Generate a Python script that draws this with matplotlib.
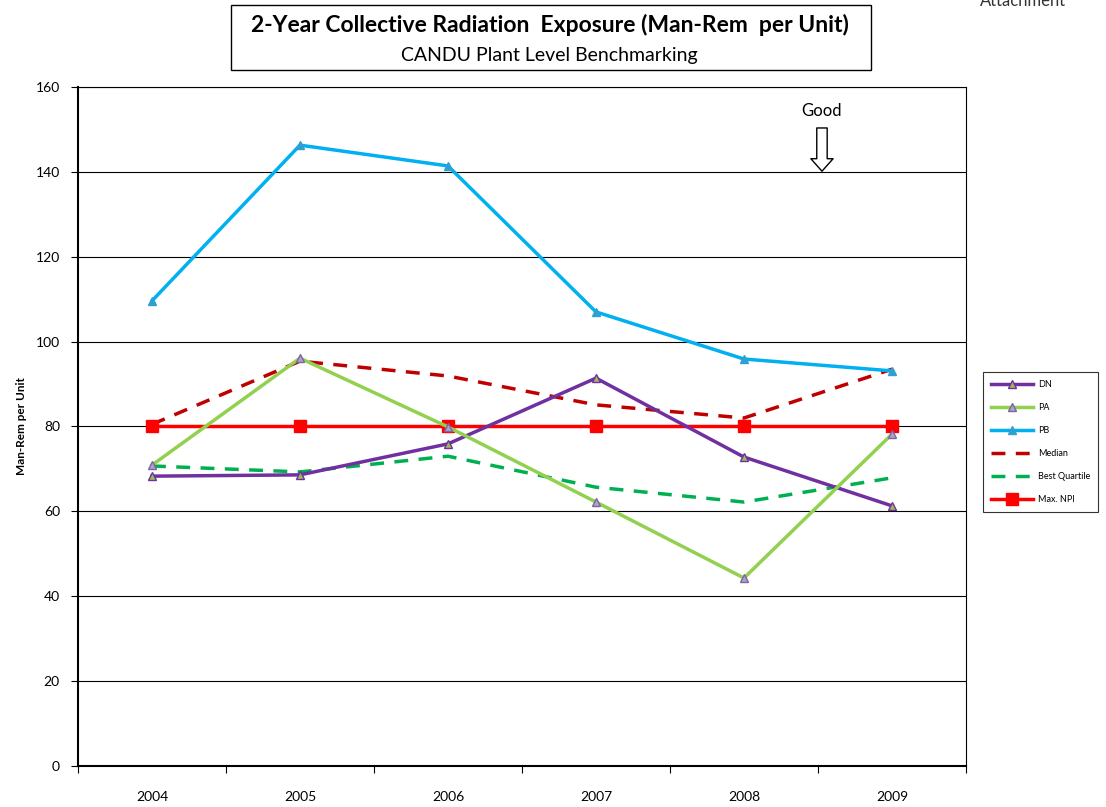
import matplotlib.pyplot as plt
import numpy as np

plt.rcParams['font.family'] = ['Lato', 'DejaVu Sans']

years = ["2004", "2005", "2006", "2007", "2008", "2009"]
dn = [68.3, 68.6, 75.9, 91.4, 72.8, 61.3]
pa = [70.9, 96.1, 79.9, 62.2, 44.3, 78.2]
pb = [109.6, 146.3, 141.4, 107.0, 95.9, 93.1]
median = [80.5, 95.4, 91.9, 85.1, 82.0, 93.5]
best_quartile = [70.7, 69.3, 73.0, 65.7, 62.2, 67.9]
max_npi = [80, 80, 80, 80, 80, 80]

x = np.arange(len(years))

fig = plt.figure(figsize=(11.06, 8.07), dpi=100)
ax = fig.add_axes([0.0705, 0.0508, 0.8029, 0.8414])

ax.plot(x, dn, color="#7030a0", lw=2.5, marker="^", ms=6,
        mfc="#9bbb59", mec="#7030a0", label="DN", zorder=4)
ax.plot(x, pa, color="#92d050", lw=2.5, marker="^", ms=6,
        mfc="#a6a6c8", mec="#8064a2", label="PA", zorder=4)
ax.plot(x, pb, color="#00b0f0", lw=2.5, marker="^", ms=6,
        mfc="#31a0d0", mec="#31a0d0", label="PB", zorder=4)
ax.plot(x, median, color="#c00000", lw=2.5, ls=(0, (4, 3)), label="Median", zorder=3)
ax.plot(x, best_quartile, color="#00b050", lw=2.5, ls=(0, (4, 3)), label="Best Quartile", zorder=3)
ax.plot(x, max_npi, color="#ff0000", lw=2.5, marker="s", ms=8, label="Max. NPI", zorder=3)

ax.set_xlim(-0.5, 5.5)
ax.set_ylim(0, 160)
ax.set_yticks(range(0, 161, 20))
ax.yaxis.grid(True, color="black", lw=0.8)
ax.set_axisbelow(True)
ax.tick_params(axis="y", direction="out", length=5, labelsize=10, pad=8)

ax.set_xticks(np.arange(-0.5, 6, 1))
ax.set_xticklabels([])
ax.set_xticks(x, minor=True)
ax.set_xticklabels(years, minor=True, fontsize=10)
ax.tick_params(axis="x", which="major", direction="out", length=5)
ax.tick_params(axis="x", which="minor", length=0, pad=18)

for s in ["top", "right"]:
    ax.spines[s].set_linewidth(0.8)
ax.spines["left"].set_linewidth(1.5)
ax.spines["bottom"].set_linewidth(1.5)

ax.set_ylabel("Man-Rem per Unit", fontsize=8.5, fontweight="bold", labelpad=6)

# "Good" arrow
ax.text(4.527, 154.4, "Good", ha="center", va="center", fontsize=12)
ax.annotate("", xy=(4.527, 139.5), xytext=(4.527, 151),
            arrowprops=dict(arrowstyle="simple,head_length=0.9,head_width=1.6,tail_width=0.75",
                            fc="white", ec="black", lw=1))

# title box
fig.text(0.497, 0.969, "2-Year Collective Radiation  Exposure (Man-Rem  per Unit)",
         ha="center", va="center", fontsize=16.5, fontweight="bold")
fig.text(0.497, 0.931, "CANDU Plant Level Benchmarking", ha="center", va="center", fontsize=14)
fig.patches.append(plt.Rectangle((231 / 1106, 1 - 70 / 807), 640 / 1106, 65 / 807,
                                 transform=fig.transFigure, fill=False, ec="black", lw=1))
fig.text(0.886, 0.999, "Attachment", ha="left", va="center", fontsize=12, color="#333333")

leg = ax.legend(loc="upper left", bbox_to_anchor=(983 / 1106, 1 - 372 / 807),
                bbox_transform=fig.transFigure, fontsize=6.5, frameon=True,
                fancybox=False, edgecolor="black", handlelength=4.6,
                handletextpad=0.6, labelspacing=1.55, borderpad=0.9,
                borderaxespad=0)
leg.get_frame().set_linewidth(0.8)

plt.savefig("out.png", dpi=100)
